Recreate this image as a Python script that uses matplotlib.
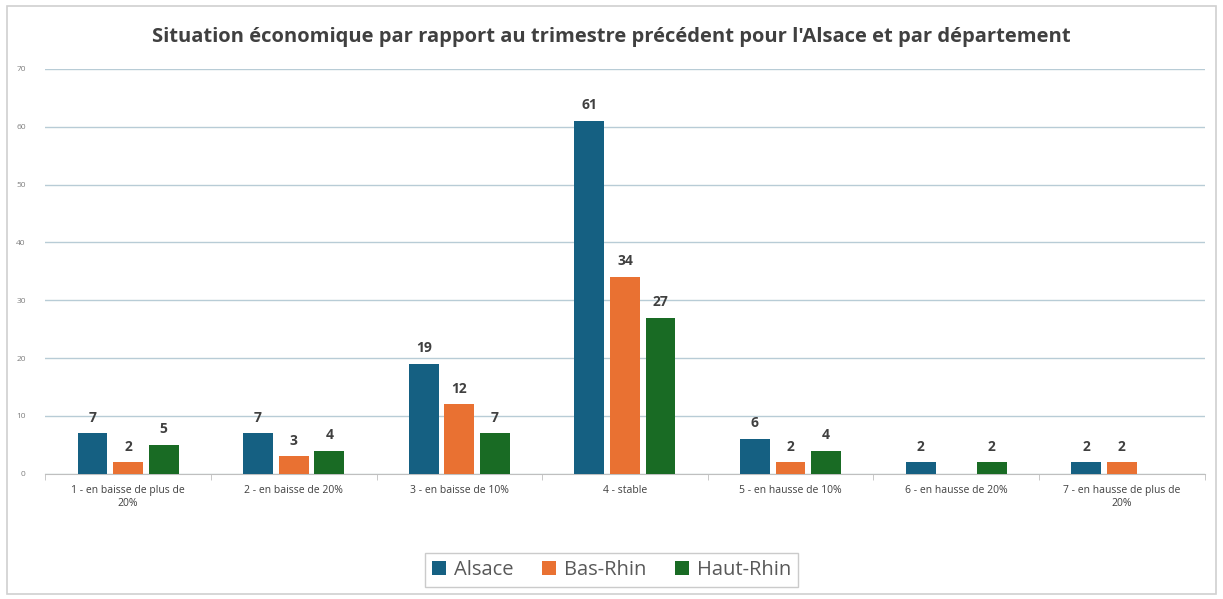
import numpy as np
import matplotlib
matplotlib.use("Agg")
from matplotlib import pyplot as plt
from matplotlib.patches import Rectangle

categories = ["1 - en baisse de plus de\n20%", "2 - en baisse de 20%", "3 - en baisse de 10%",
              "4 - stable", "5 - en hausse de 10%", "6 - en hausse de 20%",
              "7 - en hausse de plus de\n20%"]
alsace = [7, 7, 19, 61, 6, 2, 2]
bas_rhin = [2, 3, 12, 34, 2, np.nan, 2]
haut_rhin = [5, 4, 7, 27, 4, 2, np.nan]
series = [("Alsace", alsace, "#156082"),
          ("Bas-Rhin", bas_rhin, "#E97132"),
          ("Haut-Rhin", haut_rhin, "#196B24")]
yticks = [0, 10, 20, 30, 40, 50, 60, 70]

plt.rcParams['font.family'] = ['Open Sans', 'DejaVu Sans']

fig = plt.figure(figsize=(12.23, 5.99), dpi=100)
ax = fig.add_axes([0.037, 0.209, 0.948, 0.676])

# chart border
fig.patches.append(Rectangle((0.006, 0.008), 0.988, 0.982, transform=fig.transFigure,
                             fill=False, edgecolor="#d0d0d0", linewidth=1.2))

x = np.arange(len(categories))
w = 0.18
step = 0.215
for i, (name, vals, col) in enumerate(series):
    v = np.array(vals, dtype=float)
    pos = x + (i - 1) * step
    ax.bar(pos, np.nan_to_num(v), width=w, color=col, label=name, zorder=3)
    for p, val in zip(pos, v):
        if not np.isnan(val):
            ax.text(p, val + 1.5, f"{int(val)}", ha="center", va="bottom",
                    fontsize=10, fontweight="bold", color="#404040")

ax.set_xlim(-0.5, len(categories) - 0.5)
ax.set_ylim(0, 70)
ax.set_yticks(yticks)
ax.set_yticklabels([str(t) for t in yticks], fontsize=6, color="#7f7f7f")
ax.yaxis.grid(True, color="#b8ccd6", linewidth=1.0, zorder=0)
ax.set_xticks(x)
ax.set_xticklabels(categories, fontsize=7.5, color="#404040")
ax.set_xticks(np.arange(-0.5, len(categories)), minor=True)
ax.tick_params(axis="x", which="major", length=0, pad=8)
ax.tick_params(axis="x", which="minor", length=4, color="#bfbfbf")
ax.tick_params(axis="y", length=0, pad=14)
for s in ["top", "right", "left"]:
    ax.spines[s].set_visible(False)
ax.spines["bottom"].set_color("#bfbfbf")

fig.suptitle("Situation économique par rapport au trimestre précédent pour l'Alsace et par département",
             y=0.955, fontsize=14.5, fontweight="bold", color="#404040")

leg = fig.legend(loc="lower center", bbox_to_anchor=(0.5, 0.003), ncol=3, fontsize=14.5,
                 frameon=True, fancybox=False, edgecolor="#bfbfbf", handlelength=0.7,
                 handleheight=0.7, columnspacing=1.4, handletextpad=0.4, borderpad=0.35)
for t in leg.get_texts():
    t.set_color("#595959")

fig.savefig("out.png", dpi=100)
